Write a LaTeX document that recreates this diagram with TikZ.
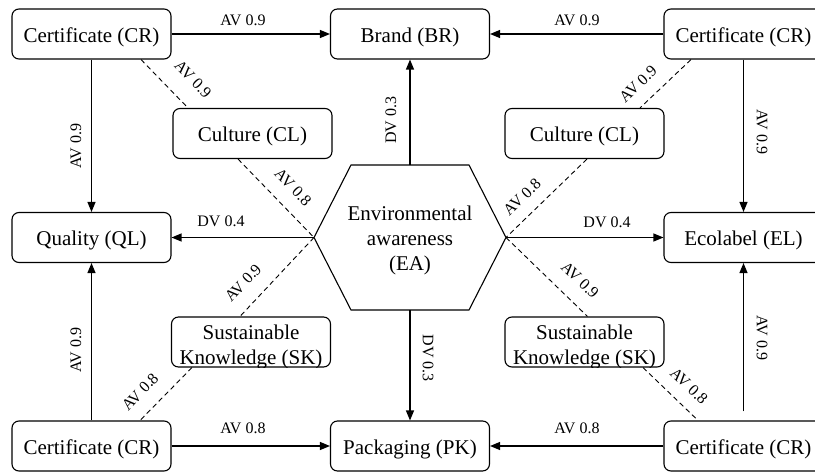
\documentclass[tikz,border=0pt]{standalone}
\usepackage{fontspec}
\setmainfont{Liberation Serif}
\usetikzlibrary{arrows.meta,calc}
\begin{document}
\begin{tikzpicture}[x=1pt,y=-1pt,
  box/.style={draw, line width=1.1pt, rounded corners=7pt, minimum width=159pt, minimum height=50pt,
    inner sep=0pt, font=\fontsize{21}{24.5}\selectfont, text height=16.5pt, text depth=0.5pt},
  multitext/.style={font=\fontsize{21}{25}\selectfont, align=center, inner sep=0pt},
  arr/.style={line width=1.2pt, -{Triangle[length=10pt,width=8pt]}},
  dline/.style={line width=0.9pt, dash pattern=on 5pt off 3.5pt},
  lbl/.style={font=\fontsize{16}{18}\selectfont, inner sep=0pt}]
\path[use as bounding box] (0,0) rectangle (815,474);
\clip (0,0) rectangle (815,474);

% boxes
\node[box] (CRtl) at (91.5,34) {Certificate (CR)};
\node[box] (BR) at (410,34) {Brand (BR)};
\node[box] (CRtr) at (743.5,34) {Certificate (CR)};
\node[box] (CLl) at (252.5,133.5) {Culture (CL)};
\node[box] (CLr) at (584.5,133.5) {Culture (CL)};
\node[box] (QL) at (91.5,237.5) {Quality (QL)};
\node[box] (EL) at (743.5,237.5) {Ecolabel (EL)};
\node[box] (SKl) at (251,342) {};
\node[box] (SKr) at (584.5,342) {};
\node[box] (CRbl) at (91.5,446) {Certificate (CR)};
\node[box] (PK) at (410,446) {Packaging (PK)};
\node[box] (CRbr) at (743.5,446) {Certificate (CR)};

\begin{scope}
  \clip[rounded corners=7pt] (SKl.south west) rectangle (SKl.north east);
  \node[multitext] (SKlt) at (251,346.5) {Sustainable\\Knowledge (SK)};
\end{scope}
\begin{scope}
  \clip[rounded corners=7pt] (SKr.south west) rectangle (SKr.north east);
  \node[multitext] (SKrt) at (584.5,346.5) {Sustainable\\Knowledge (SK)};
\end{scope}

% hexagon
\coordinate (hexC) at (410,237.5);
\coordinate (hexW) at ($(hexC)+(-96,0)$);
\coordinate (hexNW) at ($(hexC)+(-59,-72.5)$);
\coordinate (hexNE) at ($(hexC)+(59,-72.5)$);
\coordinate (hexE) at ($(hexC)+(96,0)$);
\coordinate (hexSE) at ($(hexC)+(59,72.5)$);
\coordinate (hexSW) at ($(hexC)+(-59,72.5)$);
\coordinate (hexN) at ($(hexC)+(0,-72.5)$);
\coordinate (hexS) at ($(hexC)+(0,72.5)$);
\draw[line width=1.1pt, line join=miter] (hexW) -- (hexNW) -- (hexNE) -- (hexE) -- (hexSE) -- (hexSW) -- cycle;
\node[multitext] (EA) at (410,240.5) {Environmental\\awareness\\(EA)};

% solid arrows
\draw[arr] (CRtl) -- (BR);
\draw[arr] (CRtr) -- (BR);
\draw[arr] (CRtl) -- (QL);
\draw[arr] (CRtr) -- (EL);
\draw[arr] (CRbl) -- (QL);
\draw[arr, shorten <=9pt] (CRbr) -- (EL);
\draw[arr] (CRbl) -- (PK);
\draw[arr] (CRbr) -- (PK);
\draw[arr] (hexW) -- (QL.east);
\draw[arr] (hexE) -- (EL.west);
\draw[arr] (hexN) -- (BR.south);
\draw[arr] (hexS) -- (PK.north);

% dashed lines
\draw[dline] ([xshift=49.5pt]CRtl.south) -- ([xshift=-64.5pt]CLl.north);
\draw[dline] ([xshift=-14.5pt]CLl.south) -- (hexW);
\draw[dline] ([xshift=-52.5pt]CRtr.south) -- ([xshift=55.5pt]CLr.north);
\draw[dline] ([xshift=2.5pt]CLr.south) -- (hexE);
\draw[dline] (hexW) -- ([xshift=-11pt]SKl.north);
\draw[dline] ([xshift=-59pt]SKl.south) -- ([xshift=48.5pt]CRbl.north);
\draw[dline] (hexE) -- ([xshift=3pt]SKr.north);
\draw[dline] ([xshift=58.5pt]SKr.south) -- ([xshift=-45.5pt]CRbr.north);

% labels
\node[lbl] (l1) at (243,20) {AV 0.9};
\node[lbl] (l2) at (577,20) {AV 0.9};
\node[lbl, rotate=90] (l3) at (76,146) {AV 0.9};
\node[lbl, rotate=-90] (l4) at (762,132) {AV 0.9};
\node[lbl, rotate=90] (l5) at (391,120) {DV 0.3};
\node[lbl, rotate=-90] (l6) at (428,358) {DV 0.3};
\node[lbl] (l7) at (221,221) {DV 0.4};
\node[lbl] (l8) at (607,222) {DV 0.4};
\node[lbl, rotate=-45.8] (l9) at (193,79) {AV 0.9};
\node[lbl, rotate=-45.8] (l10) at (293,187) {AV 0.8};
\node[lbl, rotate=43.7] (l11) at (638,84) {AV 0.9};
\node[lbl, rotate=43.7] (l12) at (522,197) {AV 0.8};
\node[lbl, rotate=46.6] (l13) at (243,283) {AV 0.9};
\node[lbl, rotate=46.6] (l14) at (140,392) {AV 0.8};
\node[lbl, rotate=-43.6] (l15) at (580,280) {AV 0.9};
\node[lbl, rotate=-43.6] (l16) at (689,386) {AV 0.8};
\node[lbl, rotate=90] (l17) at (76,350) {AV 0.9};
\node[lbl, rotate=-90] (l18) at (762,338) {AV 0.9};
\node[lbl] (l19) at (243,428) {AV 0.8};
\node[lbl] (l20) at (577,428) {AV 0.8};
\end{tikzpicture}
\end{document}
